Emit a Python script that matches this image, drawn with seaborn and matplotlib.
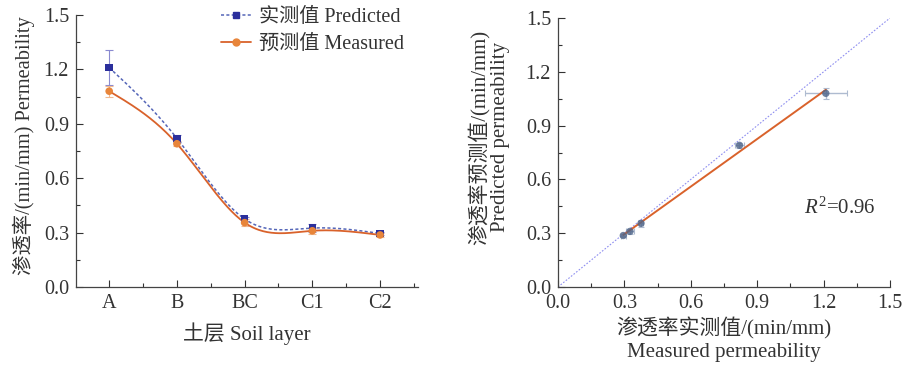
import numpy as np
import pandas as pd
import matplotlib
matplotlib.use("Agg")
import matplotlib.pyplot as plt
from matplotlib.lines import Line2D
from matplotlib.ticker import MultipleLocator, AutoMinorLocator
import seaborn as sns

# ---- data ----
layers = ["A", "B", "BC", "C1", "C2"]
predicted = [1.21, 0.82, 0.375, 0.325, 0.295]
predicted_err = [0.095, 0.02, 0.01, 0.02, 0.01]
measured = [1.08, 0.79, 0.355, 0.31, 0.287]
measured_err = [0.03, 0.015, 0.02, 0.015, 0.01]
yticks = [0.0, 0.3, 0.6, 0.9, 1.2, 1.5]
r2_text = "0.96"

sns.set_theme(style="ticks")
plt.rcParams["font.family"] = ["Liberation Serif", "Noto Sans CJK SC"]
plt.rcParams["mathtext.fontset"] = "custom"
plt.rcParams["mathtext.rm"] = "Liberation Serif"
plt.rcParams["mathtext.it"] = "Liberation Serif:italic"
TXT = "#333333"
for k in ["text.color", "axes.labelcolor", "xtick.color", "ytick.color"]:
    plt.rcParams[k] = TXT
plt.rcParams["axes.edgecolor"] = "#444444"

def natural_spline(x, y, n=200):
    x = np.asarray(x, float); y = np.asarray(y, float)
    m = len(x); h = np.diff(x)
    A = np.zeros((m, m)); b = np.zeros(m)
    A[0, 0] = A[-1, -1] = 1
    for i in range(1, m - 1):
        A[i, i - 1] = h[i - 1]; A[i, i] = 2 * (h[i - 1] + h[i]); A[i, i + 1] = h[i]
        b[i] = 3 * ((y[i + 1] - y[i]) / h[i] - (y[i] - y[i - 1]) / h[i - 1])
    c = np.linalg.solve(A, b)
    xs = np.linspace(x[0], x[-1], n); ys = np.empty_like(xs)
    for j, xv in enumerate(xs):
        i = min(np.searchsorted(x, xv, side="right") - 1, m - 2)
        dx = xv - x[i]
        bi = (y[i + 1] - y[i]) / h[i] - h[i] * (2 * c[i] + c[i + 1]) / 3
        di = (c[i + 1] - c[i]) / (3 * h[i])
        ys[j] = y[i] + bi * dx + c[i] * dx ** 2 + di * dx ** 3
    return xs, ys

fig = plt.figure(figsize=(9.09, 3.67), dpi=100)
W, H = 909, 367
ax1 = fig.add_axes([76 / W, (H - 287) / H, (418 - 76) / W, (287 - 15) / H])
ax2 = fig.add_axes([558 / W, (H - 287) / H, (890 - 558) / W, (287 - 18) / H])

blue_m, blue_l = "#2b2f9c", "#5566b8"
orange_m, orange_l = "#e8853a", "#d9622b"

xpos = np.arange(len(layers))
df = pd.DataFrame({"pos": np.concatenate([xpos, xpos]),
                   "val": predicted + measured,
                   "series": ["P"] * 5 + ["M"] * 5})

xs, ys = natural_spline(xpos, predicted)
ax1.plot(xs, ys, color=blue_l, lw=1.1, ls=(0, (2, 1.5)), zorder=2)
xs, ys = natural_spline(xpos, measured)
ax1.plot(xs, ys, color=orange_l, lw=1.3, zorder=2)
ax1.errorbar(xpos, predicted, yerr=predicted_err, fmt="none", ecolor="#8a8ad0", elinewidth=0.8, capsize=3, capthick=0.8, zorder=1)
ax1.errorbar(xpos, measured, yerr=measured_err, fmt="none", ecolor="#f0b890", elinewidth=0.8, capsize=3, capthick=0.8, zorder=1)
sns.scatterplot(data=df, x="pos", y="val", hue="series", style="series",
                markers={"P": "s", "M": "o"}, palette={"P": blue_m, "M": orange_m},
                s=30, edgecolor="none", legend=False, ax=ax1, zorder=3)
ax1.set_xlim(-0.49, 4.56)
ax1.set_ylim(0, 1.5)
ax1.set_xticks(xpos)
ax1.set_xticklabels(layers)
ax1.xaxis.set_minor_locator(MultipleLocator(0.5))
ax1.set_yticks(yticks)
ax1.set_yticklabels([f"{v:.1f}" for v in yticks])
ax1.yaxis.set_minor_locator(AutoMinorLocator(2))
ax1.set_xlabel("土层 Soil layer", fontsize=15, labelpad=7)
ax1.set_ylabel("渗透率/(min/mm) Permeability", fontsize=14.7, labelpad=6)
ax1.yaxis.label.set_y(0.518)
handles = [Line2D([], [], color=blue_l, ls=(0, (2, 1.5)), marker="s", markerfacecolor=blue_m, markeredgecolor=blue_m, markersize=5, lw=1.1),
           Line2D([], [], color=orange_l, marker="o", markerfacecolor=orange_m, markeredgecolor=orange_m, markersize=5, lw=1.3)]
ax1.legend(handles, ["实测值 Predicted", "预测值 Measured"], loc="upper right", bbox_to_anchor=(0.995, 1.07),
           frameon=False, fontsize=14.5, handlelength=1.5, handletextpad=0.4, labelspacing=0.4,
           borderaxespad=0.2)

# ---- right panel ----
sdf = pd.DataFrame({"x": predicted, "y": measured})
ax2.plot([0, 1.5], [0, 1.5], color="#8f8ff0", lw=0.8, ls=(0, (1.5, 1.5)), zorder=1)
ax2.errorbar(predicted, measured, xerr=predicted_err, yerr=measured_err, fmt="none",
             ecolor="#aebbd0", elinewidth=1.0, capsize=2.5, capthick=0.8, zorder=2)
sns.regplot(data=sdf, x="x", y="y", ci=None, ax=ax2,
            scatter_kws={"s": 28, "color": "#4e6488", "zorder": 4, "edgecolor": "none"},
            line_kws={"color": "#d9622b", "lw": 1.4, "zorder": 3})
ax2.set_xlim(0, 1.5)
ax2.set_ylim(0, 1.5)
ax2.set_xticks(yticks)
ax2.set_xticklabels([f"{v:.1f}" for v in yticks])
ax2.set_yticks(yticks)
ax2.set_yticklabels([f"{v:.1f}" for v in yticks])
ax2.xaxis.set_minor_locator(AutoMinorLocator(2))
ax2.yaxis.set_minor_locator(AutoMinorLocator(2))
ax2.set_xlabel("渗透率实测值/(min/mm)\nMeasured permeability", fontsize=15, labelpad=3, linespacing=1.3)
ax2.set_ylabel("渗透率预测值/(min/mm)\nPredicted permeability", fontsize=15, labelpad=11, linespacing=1.05)
ax2.yaxis.label.set_y(0.557)
ax2.text(1.11, 0.44, r"$R^2$=" + r2_text, fontsize=15, va="center", ha="left")

for ax in (ax1, ax2):
    sns.despine(ax=ax)
    ax.tick_params(which="major", direction="in", length=5, width=0.8, labelsize=14.5, pad=5)
    ax.tick_params(which="minor", direction="in", length=3, width=0.8)
    for s in ("left", "bottom"):
        ax.spines[s].set_linewidth(0.9)

fig.savefig("out.png", dpi=100)
